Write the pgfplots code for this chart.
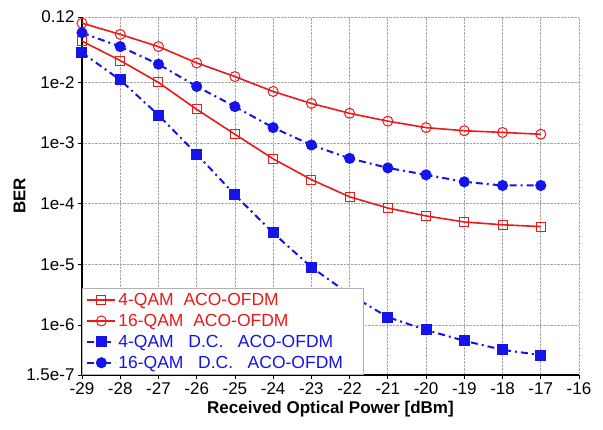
\documentclass[border=0pt]{standalone}
\usepackage{fontspec}
\setmainfont{Liberation Sans}
\usepackage{pgfplots}
\pgfplotsset{compat=1.18}

\definecolor{cred}{RGB}{235,25,25}
\definecolor{cblue}{RGB}{20,20,235}

\begin{document}
\begin{tikzpicture}
\begin{axis}[
    scale only axis,
    width=497pt, height=358pt,
    ymode=log,
    xmin=-29, xmax=-16, ymin=1.5e-7, ymax=0.12,
    axis lines=left,
    axis line style={-, line width=1.2pt, black},
    xtick={-29,-28,...,-16},
    xticklabels={-29,-28,-27,-26,-25,-24,-23,-22,-21,-20,-19,-18,-17,-16},
    ytick={1.5e-7,1e-6,1e-5,1e-4,1e-3,1e-2,0.12},
    yticklabels={1.5e-7,1e-6,1e-5,1e-4,1e-3,1e-2,0.12},
    minor tick num=0,
    tick align=outside,
    major tick length=4pt,
    tick style={black, line width=0.8pt},
    grid=major,
    major grid style={gray!70, densely dotted, line width=0.8pt},
    ticklabel style={font=\fontsize{17}{19}\selectfont},
    xlabel={\bfseries Received Optical Power [dBm]},
    ylabel={\bfseries BER},
    label style={font=\fontsize{17}{19}\selectfont},
    xlabel style={yshift=0pt},
    ylabel style={yshift=-6pt},
    legend cell align=left,
    legend image code/.code={\draw[mark repeat=2,mark phase=2] plot coordinates {(0pt,0pt) (14pt,0pt) (28pt,0pt)};},
    legend style={at={(0,0)}, anchor=south west, draw=gray!60, fill=white,
        font=\fontsize{17.5}{19}\selectfont, inner xsep=4pt, inner ysep=3pt, row sep=3.2pt,
        line width=0.8pt},
]
\addplot[cred, line width=1.6pt, mark=square, mark size=4.5pt, mark options={solid, line width=1pt}] coordinates {
(-29,0.048) (-28,0.023) (-27,0.010) (-26,3.6e-3) (-25,1.4e-3) (-24,5.5e-4)
(-23,2.5e-4) (-22,1.3e-4) (-21,8.5e-5) (-20,6.3e-5) (-19,5.0e-5) (-18,4.5e-5) (-17,4.2e-5)};
\addlegendentry{\textcolor{cred}{4-QAM\ \ ACO-OFDM}}
\addplot[cred, line width=1.6pt, mark=o, mark size=5pt, mark options={solid, line width=1pt}] coordinates {
(-29,0.095) (-28,0.062) (-27,0.039) (-26,0.021) (-25,0.0125) (-24,7.1e-3)
(-23,4.5e-3) (-22,3.1e-3) (-21,2.3e-3) (-20,1.8e-3) (-19,1.6e-3) (-18,1.5e-3) (-17,1.4e-3)};
\addlegendentry{\textcolor{cred}{16-QAM\ \ ACO-OFDM}}
\addplot[cblue, line width=2pt, dash pattern=on 7pt off 4pt on 2pt off 4pt, mark=square*, mark size=4.5pt, mark options={solid}] coordinates {
(-29,0.031) (-28,0.011) (-27,2.9e-3) (-26,6.6e-4) (-25,1.4e-4) (-24,3.3e-5)
(-23,9.0e-6) (-22,3.2e-6) (-21,1.35e-6) (-20,8.3e-7) (-19,5.5e-7) (-18,3.9e-7) (-17,3.2e-7)};
\addlegendentry{\textcolor{cblue}{4-QAM\ \ \ D.C.\ \ \ ACO-OFDM}}
\addplot[cblue, line width=2pt, dash pattern=on 7pt off 4pt on 2pt off 4pt, mark=*, mark size=4.5pt, mark options={solid}] coordinates {
(-29,0.066) (-28,0.039) (-27,0.020) (-26,8.6e-3) (-25,4.0e-3) (-24,1.8e-3)
(-23,9.3e-4) (-22,5.6e-4) (-21,3.9e-4) (-20,3.0e-4) (-19,2.3e-4) (-18,2.0e-4) (-17,2.0e-4)};
\addlegendentry{\textcolor{cblue}{16-QAM\ \ \ D.C.\ \ \ ACO-OFDM}\hspace*{14pt}}
\coordinate (bl) at (rel axis cs:0,0);
\coordinate (tr) at (rel axis cs:1,1);
\end{axis}
\pgfresetboundingbox
\path ([shift={(-82pt,-54pt)}]bl) rectangle ([shift={(24pt,17pt)}]tr);
\end{tikzpicture}
\end{document}
